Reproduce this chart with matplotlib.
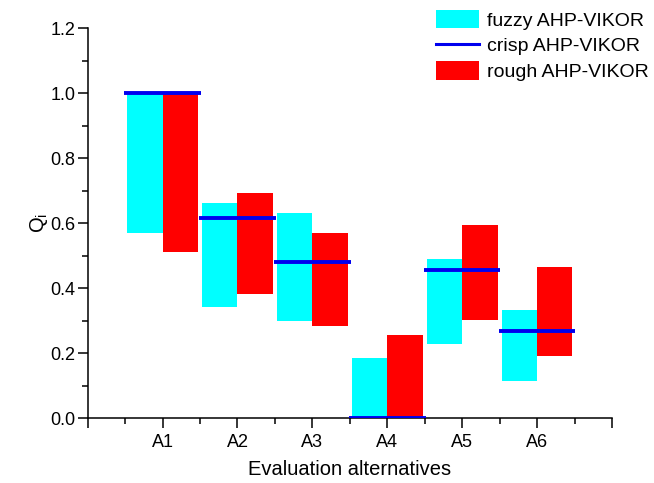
import numpy as np
import matplotlib.pyplot as plt
from matplotlib.patches import Patch
from matplotlib.lines import Line2D
from matplotlib.ticker import MultipleLocator

plt.rcParams['font.family'] = ['Liberation Sans', 'DejaVu Sans']

# data
labels = ["A1", "A2", "A3", "A4", "A5", "A6"]
fuzzy_low = [0.571, 0.342, 0.300, 0.0, 0.229, 0.115]
fuzzy_high = [1.0, 0.662, 0.630, 0.186, 0.491, 0.332]
rough_low = [0.510, 0.383, 0.284, 0.0, 0.303, 0.192]
rough_high = [1.0, 0.694, 0.570, 0.256, 0.593, 0.466]
crisp = [1.0, 0.617, 0.481, 0.0, 0.455, 0.267]

x = np.arange(1, len(labels) + 1)
w = 0.47

fig = plt.figure(figsize=(6.54, 4.83), dpi=100)
ax = fig.add_axes([0.134, 0.134, 0.802, 0.808])

f_h = np.array(fuzzy_high) - np.array(fuzzy_low)
r_h = np.array(rough_high) - np.array(rough_low)
ax.bar(x - w / 2, f_h, width=w, bottom=fuzzy_low, color='#00ffff', edgecolor='none')
ax.bar(x + w / 2, r_h, width=w, bottom=rough_low, color='#ff0000', edgecolor='none')
ax.hlines(crisp, x - 0.51, x + 0.51, color='#0000ee', linewidth=2.8, zorder=3)

ax.set_xlim(0, 7)
ax.set_ylim(0, 1.2)
ax.set_xticks(range(0, 8))
ax.set_xticklabels([''] + labels + [''])
ax.xaxis.set_minor_locator(MultipleLocator(0.5))
ax.yaxis.set_major_locator(MultipleLocator(0.2))
ax.yaxis.set_minor_locator(MultipleLocator(0.1))
ax.yaxis.set_major_formatter(plt.FormatStrFormatter('%.1f'))

ax.spines['top'].set_visible(False)
ax.spines['right'].set_visible(False)
for s in ['left', 'bottom']:
    ax.spines[s].set_linewidth(1.1)
ax.tick_params(which='major', direction='out', length=7, width=1.1, labelsize=13)
ax.tick_params(which='minor', direction='out', length=4, width=1.1)
ax.tick_params(axis='x', pad=4)
ax.tick_params(axis='y', pad=2)

ax.set_xlabel('Evaluation alternatives', fontsize=14.5, labelpad=7)
ax.set_ylabel('Q$_\\mathregular{i}$', fontsize=14.5, labelpad=0)

handles = [Patch(facecolor='#00ffff', edgecolor='none'),
           Line2D([0], [0], color='#0000ee', linewidth=2.2),
           Patch(facecolor='#ff0000', edgecolor='none')]
fig.legend(handles, ['fuzzy AHP-VIKOR', 'crisp AHP-VIKOR', 'rough AHP-VIKOR'],
           loc='upper left', bbox_to_anchor=(0.64, 1.016), frameon=False,
           fontsize=14, handlelength=2.2, handleheight=1.1, handletextpad=0.4,
           labelspacing=0.3, borderpad=0.4)

fig.savefig('out.png', dpi=100)
